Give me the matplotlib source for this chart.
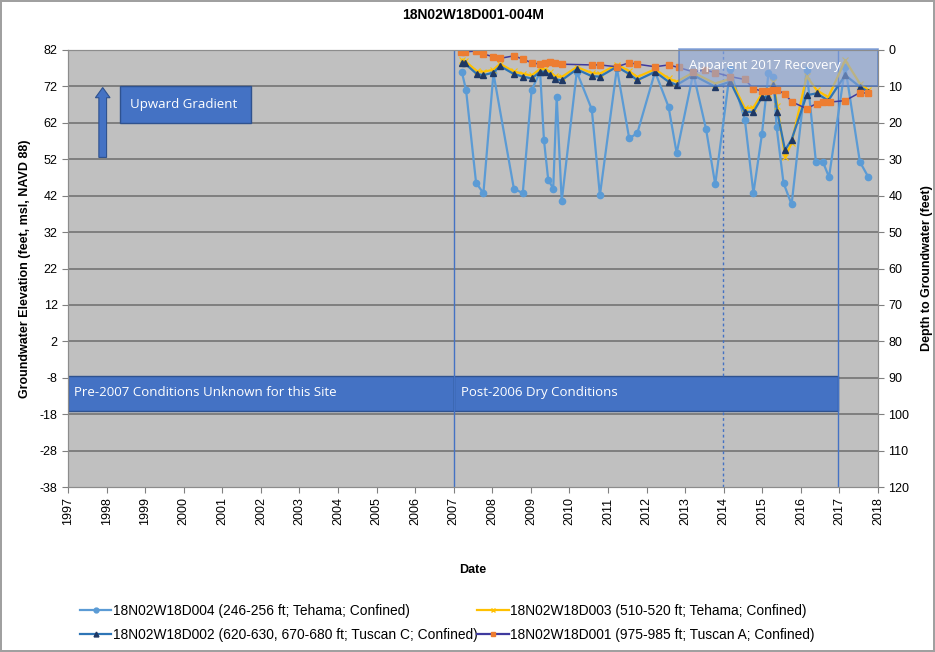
import numpy as np
import matplotlib.pyplot as plt
from matplotlib.lines import Line2D
from matplotlib.patches import Rectangle, FancyArrow

plt.rcParams['font.family'] = ['Liberation Sans', 'DejaVu Sans']
plt.rcParams['axes.unicode_minus'] = False

# D004 (246-256 ft; Tehama)
d004_t = [2007.21, 2007.32, 2007.58, 2007.77, 2008.03, 2008.56, 2008.79, 2009.02, 2009.24,
          2009.34, 2009.45, 2009.58, 2009.67, 2009.80, 2010.19, 2010.58, 2010.79, 2011.23,
          2011.55, 2011.76, 2012.22, 2012.57, 2012.78, 2013.21, 2013.54, 2013.78, 2014.17,
          2014.55, 2014.77, 2014.99, 2015.16, 2015.29, 2015.37, 2015.55, 2015.76, 2016.15,
          2016.39, 2016.57, 2016.73, 2017.15, 2017.53, 2017.75]
d004_y = [76.0, 71.0, 45.5, 42.7, 75.6, 43.9, 42.7, 71.0, 76.0,
          57.2, 46.4, 43.9, 69.2, 40.5, 76.0, 65.7, 42.1, 77.0,
          57.7, 59.2, 76.0, 66.4, 53.7, 75.6, 60.4, 45.1, 76.7,
          62.7, 42.7, 58.8, 75.6, 74.7, 60.9, 45.5, 39.6, 76.5,
          51.3, 51.3, 47.1, 77.4, 51.3, 47.1]

# D002 (620-630, 670-680 ft; Tuscan C) and D003 (510-520 ft; Tehama)
d002_t = [2007.21, 2007.29, 2007.60, 2007.77, 2008.03, 2008.20, 2008.56, 2008.79, 2009.02,
          2009.24, 2009.37, 2009.50, 2009.63, 2009.80, 2010.19, 2010.58, 2010.79, 2011.23,
          2011.55, 2011.76, 2012.22, 2012.57, 2012.78, 2013.21, 2013.78, 2014.17, 2014.55,
          2014.77, 2014.99, 2015.16, 2015.29, 2015.39, 2015.59, 2015.76, 2016.15, 2016.41,
          2016.71, 2017.15, 2017.53, 2017.75]
d002_y = [78.5, 78.3, 75.4, 75.1, 75.8, 77.6, 75.4, 74.7, 74.2,
          76.0, 76.0, 75.1, 73.9, 73.7, 76.7, 74.8, 74.7, 77.4,
          75.4, 73.7, 76.0, 73.3, 72.4, 75.1, 71.9, 73.3, 65.0,
          65.0, 69.0, 69.2, 72.4, 65.0, 54.5, 57.4, 69.6, 70.1,
          68.1, 75.1, 71.9, 70.5]
d003_y = [79.2, 79.0, 76.2, 76.0, 76.6, 78.2, 76.1, 75.5, 75.0,
          76.8, 76.7, 76.0, 74.8, 74.6, 77.3, 75.7, 75.5, 78.0,
          76.2, 74.6, 76.7, 74.2, 73.3, 75.8, 72.8, 74.1, 66.0,
          66.2, 70.0, 70.0, 73.3, 66.5, 52.6, 56.5, 74.8, 71.0,
          69.0, 79.2, 72.8, 71.0]

# D001 (975-985 ft; Tuscan A)
d001_t = [2007.18, 2007.29, 2007.58, 2007.77, 2008.01, 2008.20, 2008.56, 2008.79, 2009.02,
          2009.24, 2009.37, 2009.50, 2009.63, 2009.80, 2010.58, 2010.79, 2011.23, 2011.55,
          2011.76, 2012.22, 2012.57, 2012.83, 2013.21, 2013.52, 2013.78, 2014.17, 2014.55,
          2014.77, 2014.99, 2015.16, 2015.29, 2015.39, 2015.59, 2015.76, 2016.15, 2016.41,
          2016.57, 2016.75, 2017.15, 2017.53, 2017.75]
d001_y = [81.5, 81.5, 81.7, 80.9, 80.2, 79.7, 80.4, 79.5, 78.5,
          78.1, 78.5, 78.8, 78.5, 78.1, 77.9, 77.9, 77.4, 78.5,
          78.1, 77.4, 77.9, 77.2, 76.0, 76.5, 75.8, 74.7, 73.9,
          71.4, 70.7, 70.7, 71.0, 71.0, 69.9, 67.8, 65.9, 67.3,
          67.8, 67.7, 68.1, 70.3, 70.1]

years = list(range(1997, 2019))
elev_ticks = list(range(-38, 83, 10))
depth_ticks = list(range(0, 121, 10))

labels = ['18N02W18D004 (246-256 ft; Tehama; Confined)',
          '18N02W18D003 (510-520 ft; Tehama; Confined)',
          '18N02W18D002 (620-630, 670-680 ft; Tuscan C; Confined)',
          '18N02W18D001 (975-985 ft; Tuscan A; Confined)']

fig = plt.figure(figsize=(9.35, 6.52), dpi=100)
fig.patch.set_edgecolor('#A0A0A0')
fig.patch.set_linewidth(1.5)
ax = fig.add_axes([68 / 935, 1 - 487 / 652, 810 / 935, 437 / 652])
ax.set_facecolor('#C0C0C0')
ax.set_xlim(1997, 2018)
ax.set_ylim(-38, 82)
ax.set_yticks(elev_ticks)
ax.set_xticks(years)
ax.set_xticklabels([str(y) for y in years], rotation=90, fontsize=9)
ax.tick_params(axis='y', labelsize=9, length=4, color='#808080')
ax.tick_params(axis='x', length=4, color='#808080')
for v in elev_ticks[1:-1]:
    ax.axhline(v, color='#7A7A7A', lw=1.3, zorder=1)
for s in ax.spines.values():
    s.set_color('#8C8C8C')

# annotation boxes and reference lines
ax.add_patch(Rectangle((1997, -17), 10, 9.5, facecolor='#4472C4', edgecolor='#2F528F', lw=1, zorder=2))
ax.add_patch(Rectangle((2007, -17), 9.95, 9.5, facecolor='#4472C4', edgecolor='#2F528F', lw=1, zorder=2))
ax.text(1997.15, -12.0, 'Pre-2007 Conditions Unknown for this Site', color='white', fontsize=9.5,
        va='center', family=['Open Sans', 'DejaVu Sans'], zorder=3)
ax.text(2007.2, -12.0, 'Post-2006 Dry Conditions', color='white', fontsize=9.5,
        va='center', family=['Open Sans', 'DejaVu Sans'], zorder=3)
ax.add_patch(Rectangle((1998.35, 62), 3.4, 10, facecolor='#4472C4', edgecolor='#2F528F', lw=1, zorder=2))
ax.text(1998.6, 67.0, 'Upward Gradient', color='white', fontsize=9.5, va='center',
        family=['Open Sans', 'DejaVu Sans'], zorder=3)
ax.add_patch(FancyArrow(1997.9, 52.5, 0, 19.2, width=0.2, head_width=0.38, head_length=2.8,
                        length_includes_head=True, facecolor='#4472C4', edgecolor='#2F528F', lw=0.8, zorder=3))
ax.axvline(2007, color='#4472C4', lw=1.0, zorder=2)
ax.axvline(2016.95, color='#4472C4', lw=1.0, zorder=2)
ax.axvline(2013.98, color='#4472C4', lw=1.0, ls=(0, (2, 2)), zorder=2)

# series
ax.plot(d004_t, d004_y, color='#5B9BD5', lw=1.6, marker='o', ms=4.5, zorder=4)
ax.plot(d002_t, d003_y, color='#FFC000', lw=1.6, marker='x', ms=4, mew=0.8, zorder=5)
ax.plot(d002_t, d002_y, color='#2E75B6', lw=1.6, marker='^', ms=5, mfc='#1F3864', mec='#1F3864', zorder=6)
ax.plot(d001_t, d001_y, color='#3F3A9E', lw=1.1, marker='s', ms=5, mfc='#ED7D31', mec='#ED7D31', zorder=7)

ax.add_patch(Rectangle((2012.84, 72), 5.16, 10.3, facecolor='#8EA9DB', alpha=0.6,
                       edgecolor='#4472C4', lw=1.2, zorder=8, clip_on=False))
ax.text(2013.1, 77.7, 'Apparent 2017 Recovery', color='white', fontsize=9.5, va='center',
        family=['Open Sans', 'DejaVu Sans'], zorder=9)

ax.set_ylabel('Groundwater Elevation (feet, msl, NAVD 88)', fontsize=9, fontweight='bold', labelpad=6)
ax.set_xlabel('Date', fontsize=9, fontweight='bold', labelpad=28)
ax.set_title('18N02W18D001-004M', fontsize=10, fontweight='bold', pad=22)

ax2 = ax.twinx()
ax2.set_ylim(120, 0)
ax2.set_yticks(depth_ticks)
ax2.tick_params(axis='y', labelsize=9, length=4, color='#808080')
ax2.set_ylabel('Depth to Groundwater (feet)', fontsize=9, fontweight='bold', labelpad=8)
for s in ax2.spines.values():
    s.set_color('#8C8C8C')

handles = [
    Line2D([], [], color='#5B9BD5', lw=1.6, marker='o', ms=3.5),
    Line2D([], [], color='#2E75B6', lw=1.6, marker='^', ms=3.5, mfc='#1F3864', mec='#1F3864'),
    Line2D([], [], color='#FFC000', lw=1.6, marker='x', ms=3.5),
    Line2D([], [], color='#3F3A9E', lw=1.6, marker='s', ms=3.5, mfc='#ED7D31', mec='#ED7D31'),
]
fig.legend(handles, [labels[0], labels[2], labels[1], labels[3]], ncol=2, loc='upper left',
           bbox_to_anchor=(0.072, 0.093), frameon=False, fontsize=9.9,
           handlelength=2.3, handletextpad=0.1, columnspacing=0.0, labelspacing=0.75)

fig.savefig('out.png', dpi=100)
